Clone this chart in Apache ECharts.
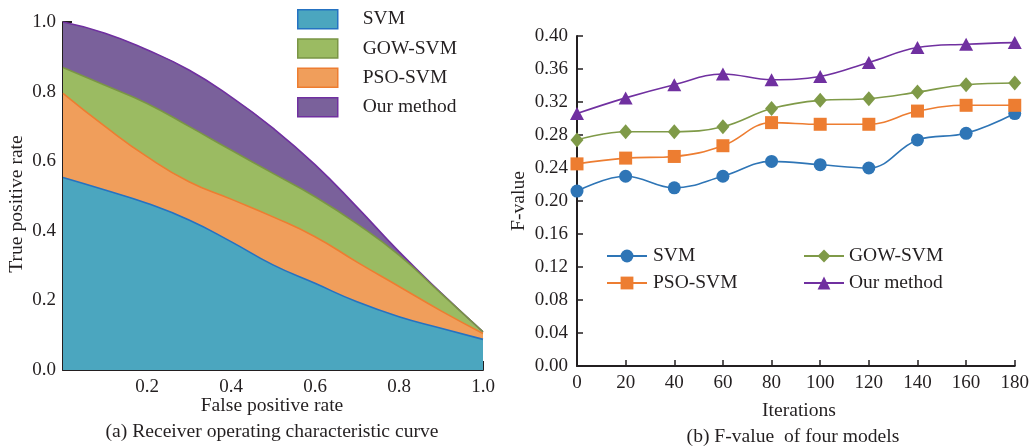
<!DOCTYPE html>
<html>
<head>
<meta charset="utf-8">
<style>
  html, body { margin: 0; padding: 0; background: #ffffff; }
  #chart { width: 1032px; height: 447px; }
</style>
<script src="https://cdn.jsdelivr.net/npm/echarts@6/dist/echarts.min.js"></script>
</head>
<body>
<div id="chart"></div>
<script>
// ---- (a) ROC curves: false positive rate vs true positive rate ----
const rocFpr = [0, 0.1, 0.2, 0.3, 0.4, 0.5, 0.6, 0.7, 0.8, 0.9, 1.0];
const rocSvm    = [0.553, 0.517, 0.479, 0.431, 0.369, 0.302, 0.249, 0.196, 0.153, 0.120, 0.088];
const rocPsoSvm = [0.795, 0.700, 0.613, 0.541, 0.491, 0.440, 0.383, 0.310, 0.240, 0.170, 0.105];
const rocGowSvm = [0.869, 0.818, 0.766, 0.700, 0.632, 0.565, 0.498, 0.420, 0.330, 0.220, 0.110];
const rocOurs   = [1.000, 0.968, 0.920, 0.862, 0.785, 0.695, 0.590, 0.468, 0.340, 0.222, 0.110];

// ---- (b) F-value over iterations ----
const iterations = [0, 20, 40, 60, 80, 100, 120, 140, 160, 180];
const fSvm    = [0.212, 0.230, 0.216, 0.230, 0.248, 0.244, 0.240, 0.274, 0.282, 0.306];
const fPsoSvm = [0.245, 0.252, 0.254, 0.267, 0.295, 0.293, 0.293, 0.309, 0.316, 0.316];
const fGowSvm = [0.274, 0.284, 0.284, 0.290, 0.312, 0.322, 0.324, 0.332, 0.341, 0.343];
const fOurs   = [0.306, 0.325, 0.341, 0.354, 0.347, 0.351, 0.368, 0.386, 0.390, 0.392];

const modelNames = ['SVM', 'GOW-SVM', 'PSO-SVM', 'Our method'];

const FONT = '"Liberation Serif", "Times New Roman", serif';
const INK = '#231f20';

const fill = { 'SVM': '#4ba6bf', 'GOW-SVM': '#9bbb62', 'PSO-SVM': '#f09e5b', 'Our method': '#7a619b' };
const edge = { 'SVM': '#2572c2', 'GOW-SVM': '#7a9545', 'PSO-SVM': '#ed7d31', 'Our method': '#7030a0' };
const lineColor = { 'SVM': '#2e75b6', 'GOW-SVM': '#7f9a48', 'PSO-SVM': '#ed7d31', 'Our method': '#7030a0' };

const ROC_SUFFIX = ' (ROC)';
const pairs = (xs, ys) => xs.map((x, i) => [x, ys[i]]);

const rocData = { 'SVM': rocSvm, 'GOW-SVM': rocGowSvm, 'PSO-SVM': rocPsoSvm, 'Our method': rocOurs };
const fData = { 'SVM': fSvm, 'GOW-SVM': fGowSvm, 'PSO-SVM': fPsoSvm, 'Our method': fOurs };
const fSymbol = {
  'SVM': ['circle', 13],
  'GOW-SVM': ['diamond', [13, 15]],
  'PSO-SVM': ['rect', 13],
  'Our method': ['triangle', [14, 13]]
};

// ROC areas: back to front so the lowest curve sits on top
const rocSeries = ['Our method', 'GOW-SVM', 'PSO-SVM', 'SVM'].map(n => ({
  name: n + ROC_SUFFIX,
  type: 'line',
  xAxisIndex: 0, yAxisIndex: 0,
  data: pairs(rocFpr, rocData[n]),
  smooth: 0.5,
  showSymbol: false,
  symbol: 'none',
  lineStyle: { color: edge[n], width: 1.6 },
  itemStyle: { color: fill[n] },
  areaStyle: { color: fill[n], opacity: 1 },
  silent: true
}));

const fSeries = ['SVM', 'GOW-SVM', 'PSO-SVM', 'Our method'].map(n => ({
  name: n,
  type: 'line',
  xAxisIndex: 1, yAxisIndex: 1,
  data: pairs(iterations, fData[n]),
  smooth: 0.4,
  symbol: fSymbol[n][0],
  symbolSize: fSymbol[n][1],
  lineStyle: { color: lineColor[n], width: 1.6 },
  itemStyle: { color: lineColor[n] }
}));

const axisLineStyle = { lineStyle: { color: INK, width: 2 } };
const labelStyle = { fontFamily: FONT, fontSize: 19, color: INK };
const titleFont = '19.6px ' + FONT;

const chart = echarts.init(document.getElementById('chart'), null, { renderer: 'canvas' });

chart.setOption({
  backgroundColor: '#ffffff',
  animation: false,
  textStyle: { fontFamily: FONT },
  grid: [
    { left: 63, right: 549, top: 22, bottom: 77 },
    { left: 577, right: 15, top: 36, bottom: 81 }
  ],
  xAxis: [
    {
      gridIndex: 0, type: 'value', min: 0, max: 1, interval: 0.2,
      axisLine: axisLineStyle,
      axisTick: { inside: true, length: 9, lineStyle: { color: INK, width: 2 } },
      axisLabel: Object.assign({ margin: 8, showMinLabel: false, formatter: v => v.toFixed(1) }, labelStyle),
      splitLine: { show: false }
    },
    {
      gridIndex: 1, type: 'value', min: 0, max: 180, interval: 20,
      axisLine: axisLineStyle,
      axisTick: { inside: true, length: 6, lineStyle: { color: INK, width: 1.5 } },
      axisLabel: Object.assign({ margin: 8 }, labelStyle),
      splitLine: { show: false }
    }
  ],
  yAxis: [
    {
      gridIndex: 0, type: 'value', min: 0, max: 1, interval: 0.2,
      axisLine: Object.assign({ show: true }, axisLineStyle),
      axisTick: { show: true, inside: true, length: 9, lineStyle: { color: INK, width: 2 } },
      axisLabel: Object.assign({ margin: 7, formatter: v => v.toFixed(1) }, labelStyle),
      splitLine: { show: false }
    },
    {
      gridIndex: 1, type: 'value', min: 0, max: 0.4, interval: 0.04,
      axisLine: Object.assign({ show: true }, axisLineStyle),
      axisTick: { show: true, inside: true, length: 6, lineStyle: { color: INK, width: 1.5 } },
      axisLabel: Object.assign({ margin: 9, formatter: v => v.toFixed(2) }, labelStyle),
      splitLine: { show: false }
    }
  ],
  legend: [
    {
      left: 292, top: 4, orient: 'vertical',
      itemWidth: 40, itemHeight: 19, itemGap: 8.8,
      icon: 'rect',
      selectedMode: false,
      data: modelNames.map(n => ({
        name: n + ROC_SUFFIX,
        icon: 'rect',
        itemStyle: { color: fill[n], borderColor: edge[n], borderWidth: 1.5 }
      })),
      formatter: name => name.replace(ROC_SUFFIX, ''),
      textStyle: { fontFamily: FONT, fontSize: 19.5, color: INK, lineHeight: 19, padding: [0, 0, 0, 20] }
    },
    {
      left: 601, top: 241, orient: 'vertical',
      itemWidth: 40, itemHeight: 16, itemGap: 7,
      selectedMode: false,
      data: ['SVM', 'PSO-SVM'],
      textStyle: { fontFamily: FONT, fontSize: 19.5, color: INK, lineHeight: 20, padding: [0, 0, 0, 1] }
    },
    {
      left: 798, top: 241, orient: 'vertical',
      itemWidth: 40, itemHeight: 16, itemGap: 7,
      selectedMode: false,
      data: ['GOW-SVM', 'Our method'],
      textStyle: { fontFamily: FONT, fontSize: 19.5, color: INK, lineHeight: 20, padding: [0, 0, 0, 0] }
    }
  ],
  graphic: [
    { type: 'text', x: 17, y: 204, rotation: Math.PI / 2,
      style: { text: 'True positive rate', font: titleFont, fill: INK, align: 'center', verticalAlign: 'middle' } },
    { type: 'text', x: 272, y: 406,
      style: { text: 'False positive rate', font: titleFont, fill: INK, align: 'center', verticalAlign: 'middle' } },
    { type: 'text', x: 272, y: 432,
      style: { text: '(a) Receiver operating characteristic curve', font: titleFont, fill: INK, align: 'center', verticalAlign: 'middle' } },
    { type: 'text', x: 519, y: 201, rotation: Math.PI / 2,
      style: { text: 'F-value', font: titleFont, fill: INK, align: 'center', verticalAlign: 'middle' } },
    { type: 'text', x: 799, y: 411,
      style: { text: 'Iterations', font: titleFont, fill: INK, align: 'center', verticalAlign: 'middle' } },
    { type: 'text', x: 793, y: 437,
      style: { text: '(b) F-value  of four models', font: titleFont, fill: INK, align: 'center', verticalAlign: 'middle' } }
  ],
  series: rocSeries.concat(fSeries)
});
</script>
</body>
</html>
